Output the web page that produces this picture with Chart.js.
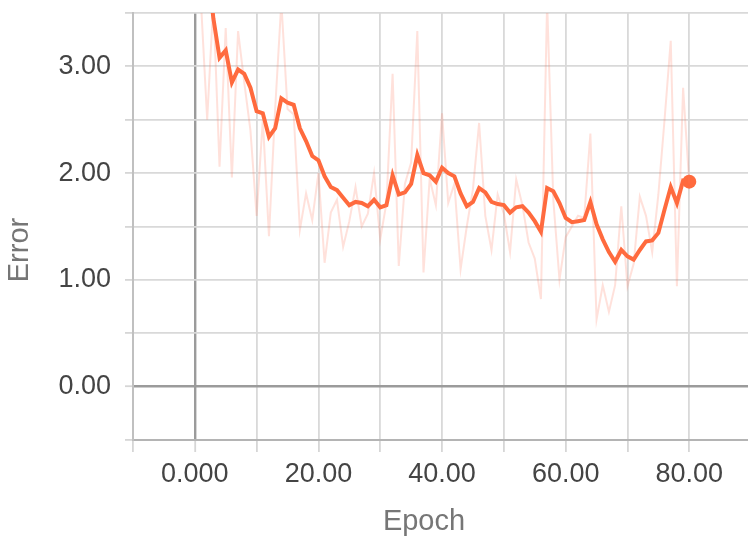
<!DOCTYPE html>
<html>
<head>
<meta charset="utf-8">
<script src="https://cdn.jsdelivr.net/npm/chart.js@4/dist/chart.umd.min.js"></script>
<style>
  html, body { margin: 0; padding: 0; background: #ffffff; }
  #wrap { width: 748px; height: 542px; position: relative; }
</style>
</head>
<body>
<div id="wrap"><canvas id="c" width="748" height="542"></canvas></div>
<script>
// Training epochs
const epochs = [
  1, 2, 3, 4, 5, 6, 7, 8, 9, 10,
  11, 12, 13, 14, 15, 16, 17, 18, 19, 20,
  21, 22, 23, 24, 25, 26, 27, 28, 29, 30,
  31, 32, 33, 34, 35, 36, 37, 38, 39, 40,
  41, 42, 43, 44, 45, 46, 47, 48, 49, 50,
  51, 52, 53, 54, 55, 56, 57, 58, 59, 60,
  61, 62, 63, 64, 65, 66, 67, 68, 69, 70,
  71, 72, 73, 74, 75, 76, 77, 78, 79, 80
];

// Raw per-epoch error
const rawError = [
  3.60, 2.50, 3.60, 2.06, 3.36, 1.96, 3.33, 2.85, 2.40, 1.60,
  2.50, 1.41, 2.60, 3.60, 2.60, 2.55, 1.47, 1.81, 1.56, 2.00,
  1.16, 1.63, 1.75, 1.31, 1.55, 1.87, 1.50, 1.62, 2.00, 1.38,
  1.72, 2.93, 1.13, 1.90, 2.10, 3.33, 1.07, 1.95, 1.70, 2.56,
  1.72, 1.90, 1.10, 1.50, 1.85, 2.47, 1.60, 1.28, 1.80, 1.62,
  1.26, 1.94, 1.70, 1.35, 1.20, 0.82, 3.60, 1.75, 1.00, 1.40,
  1.50, 1.60, 1.58, 2.37, 0.63, 0.95, 0.70, 0.95, 1.69, 0.94,
  1.15, 1.78, 1.60, 1.26, 1.80, 2.50, 3.24, 0.94, 2.80, 1.90
];

// Smoothed error curve
const smoothError = [
  4.60, 4.00, 3.45, 3.08, 3.15, 2.85, 2.97, 2.93, 2.80, 2.58,
  2.56, 2.34, 2.42, 2.70, 2.66, 2.64, 2.42, 2.30, 2.16, 2.12,
  1.97, 1.87, 1.84, 1.77, 1.70, 1.73, 1.72, 1.69, 1.75, 1.68,
  1.70, 1.98, 1.80, 1.82, 1.90, 2.17, 2.00, 1.98, 1.92, 2.05,
  2.00, 1.97, 1.81, 1.69, 1.73, 1.86, 1.82, 1.73, 1.71, 1.70,
  1.63, 1.68, 1.69, 1.63, 1.55, 1.45, 1.86, 1.83, 1.72, 1.58,
  1.54, 1.55, 1.56, 1.73, 1.52, 1.38, 1.26, 1.17, 1.28, 1.22,
  1.19, 1.28, 1.36, 1.37, 1.44, 1.66, 1.87, 1.72, 1.93, 1.92
];

// Axis ticks: grid positions and the labelled ones
const xGridTicks = [-10, 0, 10, 20, 30, 40, 50, 60, 70, 80];
const xLabelTicks = [0, 20, 40, 60, 80];
const xLabelText = ['0.000', '20.00', '40.00', '60.00', '80.00'];
const yGridTicks = [-0.5, 0, 0.5, 1, 1.5, 2, 2.5, 3, 3.5];
const yLabelTicks = [0, 1, 2, 3];
const yLabelText = ['0.00', '1.00', '2.00', '3.00'];
const xTitle = 'Epoch';
const yTitle = 'Error';

const ORANGE = '#ff6a3d';
const FONT = '"Liberation Sans", Arial, sans-serif';

const rawPts = epochs.map((e, i) => ({ x: e, y: rawError[i] }));
const smoothPts = epochs.map((e, i) => ({ x: e, y: smoothError[i] }));
const lastIdx = smoothPts.length - 1;

function gridColor(ctx) {
  return ctx.tick && ctx.tick.value === 0 ? '#9b9b9b' : '#d9d9d9';
}
function gridWidth(ctx) {
  return ctx.tick && ctx.tick.value === 0 ? 2.4 : 1.8;
}

// Axis titles, placed a little off-centre below and beside the plot
const axisTitles = {
  id: 'axisTitles',
  afterDraw(chart) {
    const ctx = chart.ctx;
    ctx.save();
    ctx.fillStyle = '#767676';
    ctx.font = '29px ' + FONT;
    ctx.textAlign = 'center';
    ctx.textBaseline = 'middle';
    ctx.fillText(xTitle, 424, 522);
    ctx.translate(20, 250);
    ctx.rotate(-Math.PI / 2);
    ctx.fillText(yTitle, 0, 0);
    ctx.restore();
  }
};

new Chart(document.getElementById('c'), {
  type: 'line',
  data: {
    datasets: [
      {
        label: 'raw',
        data: rawPts,
        borderColor: 'rgba(255, 120, 90, 0.22)',
        borderWidth: 2,
        pointRadius: 0,
        tension: 0,
        clip: 0
      },
      {
        label: 'smoothed',
        data: smoothPts,
        borderColor: ORANGE,
        backgroundColor: ORANGE,
        borderWidth: 4,
        pointRadius: (ctx) => (ctx.dataIndex === lastIdx ? 7 : 0),
        pointHoverRadius: 0,
        pointBorderWidth: 0,
        tension: 0,
        clip: 0
      }
    ]
  },
  options: {
    responsive: false,
    animation: false,
    events: [],
    layout: { autoPadding: false, padding: { top: 13, right: 0, left: 0, bottom: 0 } },
    plugins: { legend: { display: false }, tooltip: { enabled: false } },
    scales: {
      x: {
        type: 'linear',
        min: -10,
        max: 89.5,
        afterBuildTicks: (s) => { s.ticks = xGridTicks.map(v => ({ value: v })); },
        afterFit: (s) => { s.height = 102; s.paddingLeft = 0; s.paddingRight = 0; },
        grid: { color: gridColor, lineWidth: gridWidth, tickLength: 12, tickColor: '#d6d6d6', tickWidth: 1.8 },
        border: { color: '#b4b4b4', width: 2 },
        ticks: {
          autoSkip: false,
          maxRotation: 0,
          padding: 6,
          color: '#444444',
          font: { family: FONT, size: 27 },
          callback: (v) => { const k = xLabelTicks.indexOf(v); return k >= 0 ? xLabelText[k] : ''; }
        }
      },
      y: {
        type: 'linear',
        min: -0.5,
        max: 3.5,
        afterBuildTicks: (s) => { s.ticks = yGridTicks.map(v => ({ value: v })); },
        afterFit: (s) => { s.width = 133; s.paddingTop = 0; s.paddingBottom = 0; },
        grid: { color: gridColor, lineWidth: gridWidth, tickLength: 8, tickColor: '#d6d6d6', tickWidth: 1.8 },
        border: { color: '#c0c0c0', width: 2 },
        ticks: {
          autoSkip: false,
          padding: 14,
          color: '#444444',
          font: { family: FONT, size: 27 },
          callback: (v) => { const k = yLabelTicks.indexOf(v); return k >= 0 ? yLabelText[k] : ''; }
        }
      }
    }
  },
  plugins: [axisTitles]
});
</script>
</body>
</html>
